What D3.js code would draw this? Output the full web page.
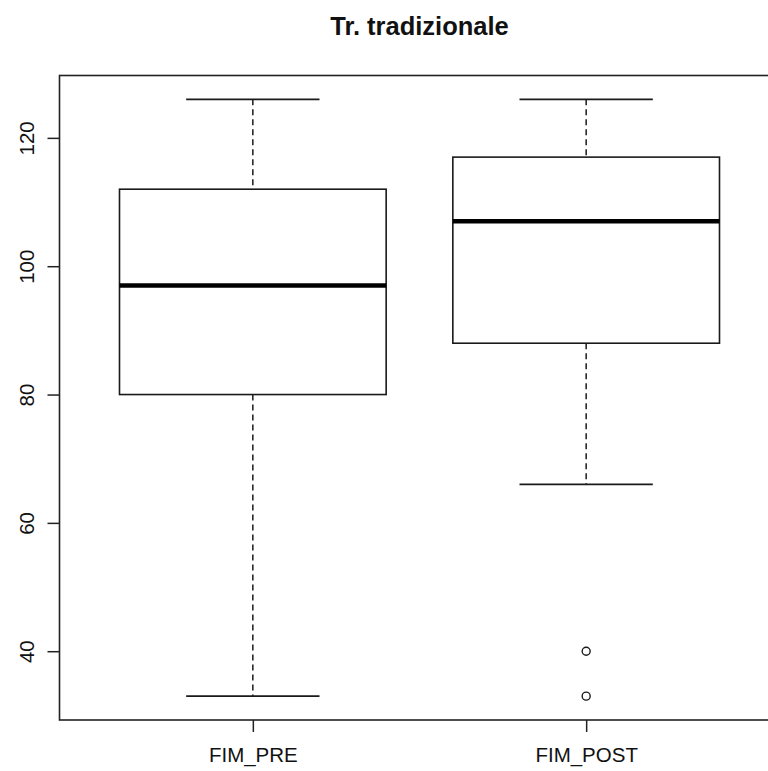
<!DOCTYPE html>
<html>
<head>
<meta charset="utf-8">
<script src="https://cdn.jsdelivr.net/npm/d3@7"></script>
<style>
    body { margin: 0; background: #fff; }
    svg { display: block; }
    text { font-family: "Liberation Sans", Arial, sans-serif; fill: #111; }
</style>
</head>
<body>
<script>
    // data
    const categories = ["FIM_PRE", "FIM_POST"];
    const lowerWhisker = [33, 66];
    const q1 = [80, 88];
    const medians = [97, 107];
    const q3 = [112, 117];
    const upperWhisker = [126, 126];
    const outliers = [[], [40, 33]];
    const yTicks = [40, 60, 80, 100, 120];
    const title = "Tr. tradizionale";

    const width = 768, height = 771;
    const plot = { left: 59.5, right: 779.5, top: 75.5, bottom: 720 };

    const svg = d3.select("body").append("svg")
        .attr("width", width)
        .attr("height", height);

    // R style: extend data range by 4%
    const yMin = 33, yMax = 126, pad = (yMax - yMin) * 0.04;
    const y = d3.scaleLinear()
        .domain([yMin - pad, yMax + pad])
        .range([plot.bottom, plot.top]);

    const x = d3.scaleLinear()
        .domain([0.42, categories.length + 0.58])
        .range([plot.left, plot.right]);

    const boxes = categories.map((c, i) => ({
        pos: i + 1,
        lo: lowerWhisker[i], q1: q1[i], med: medians[i], q3: q3[i], hi: upperWhisker[i],
        out: outliers[i]
    }));

    const boxW = x(1.4) - x(1), capW = x(1.2) - x(1);
    const ink = "#1a1a1a";

    const g = svg.append("g").selectAll("g")
        .data(boxes)
        .enter()
        .append("g");

    // whiskers (dashed)
    g.append("line")
        .attr("x1", d => x(d.pos)).attr("x2", d => x(d.pos))
        .attr("y1", d => y(d.hi)).attr("y2", d => y(d.q3))
        .attr("stroke", ink).attr("stroke-width", 1.5).attr("stroke-dasharray", "6,4");
    g.append("line")
        .attr("x1", d => x(d.pos)).attr("x2", d => x(d.pos))
        .attr("y1", d => y(d.q1)).attr("y2", d => y(d.lo))
        .attr("stroke", ink).attr("stroke-width", 1.5).attr("stroke-dasharray", "6,4");

    // caps
    ["hi", "lo"].forEach(k => {
        g.append("line")
            .attr("x1", d => x(d.pos) - capW).attr("x2", d => x(d.pos) + capW)
            .attr("y1", d => y(d[k])).attr("y2", d => y(d[k]))
            .attr("stroke", ink).attr("stroke-width", 1.6);
    });

    // box
    g.append("rect")
        .attr("x", d => x(d.pos) - boxW)
        .attr("width", 2 * boxW)
        .attr("y", d => y(d.q3))
        .attr("height", d => y(d.q1) - y(d.q3))
        .attr("fill", "#fff")
        .attr("stroke", ink).attr("stroke-width", 1.6);

    // median
    g.append("line")
        .attr("x1", d => x(d.pos) - boxW).attr("x2", d => x(d.pos) + boxW)
        .attr("y1", d => y(d.med)).attr("y2", d => y(d.med))
        .attr("stroke", "#000").attr("stroke-width", 4.5);

    // outliers
    g.selectAll("circle")
        .data(d => d.out.map(v => ({ pos: d.pos, v })))
        .enter()
        .append("circle")
        .attr("cx", d => x(d.pos))
        .attr("cy", d => y(d.v))
        .attr("r", 4)
        .attr("fill", "none")
        .attr("stroke", ink).attr("stroke-width", 1.4);

    // frame
    svg.append("rect")
        .attr("x", plot.left).attr("y", plot.top)
        .attr("width", plot.right - plot.left)
        .attr("height", plot.bottom - plot.top)
        .attr("fill", "none")
        .attr("stroke", "#222").attr("stroke-width", 1.6);

    // y axis
    const yAxis = svg.append("g")
        .attr("transform", `translate(${plot.left},0)`)
        .call(d3.axisLeft(y).tickValues(yTicks).tickSize(12).tickPadding(0));
    yAxis.select(".domain").remove();
    yAxis.selectAll(".tick line").attr("stroke", "#222").attr("stroke-width", 1.5);
    yAxis.selectAll(".tick text")
        .attr("transform", "rotate(-90)")
        .attr("x", 0).attr("y", -26)
        .attr("dy", 0)
        .attr("text-anchor", "middle")
        .style("font-size", "20.5px")
        .style("font-family", "Liberation Sans, Arial, sans-serif")
        .attr("fill", "#111");

    // x axis
    const xAxis = svg.append("g")
        .attr("transform", `translate(0,${plot.bottom})`)
        .call(d3.axisBottom(x).tickValues(boxes.map(d => d.pos))
            .tickFormat((d, i) => categories[i]).tickSize(12).tickPadding(15));
    xAxis.select(".domain").remove();
    xAxis.selectAll(".tick line").attr("stroke", "#222").attr("stroke-width", 1.5);
    xAxis.selectAll(".tick text")
        .style("font-size", "20.5px")
        .style("font-family", "Liberation Sans, Arial, sans-serif")
        .attr("fill", "#111");

    // title
    svg.append("text")
        .attr("x", (plot.left + plot.right) / 2)
        .attr("y", 35)
        .attr("text-anchor", "middle")
        .style("font-size", "25.5px")
        .style("font-weight", "bold")
        .text(title);
</script>
</body>
</html>
